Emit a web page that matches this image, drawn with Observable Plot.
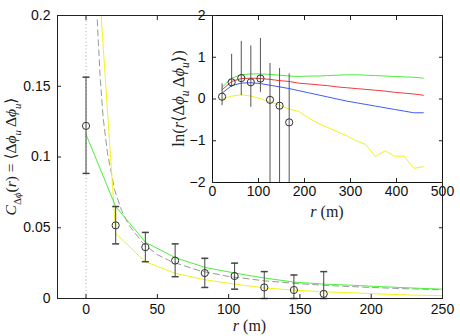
<!DOCTYPE html>
<html><head><meta charset="utf-8">
<script src="https://cdn.jsdelivr.net/npm/d3@7"></script>
<script src="https://cdn.jsdelivr.net/npm/@observablehq/plot@0.6"></script>
<style>
body{margin:0;background:#fff;}
#wrap{position:relative;width:460px;height:336px;overflow:hidden;background:#fff;}
#wrap svg{position:absolute;overflow:visible;}
</style></head><body><div id="wrap"></div>
<script>
// ---- main panel data ----
const rData = [0, 20.8, 41.6, 62.5, 83.3, 104.2, 125, 145.8, 166.7];
const cMean = [0.122, 0.0517, 0.0363, 0.0268, 0.018, 0.0159, 0.0078, 0.006, 0.0033];
const cLow  = [0.0884, 0.0386, 0.026, 0.0154, 0.0078, 0.0066, 0, 0, 0];
const cHigh = [0.1564, 0.065, 0.0467, 0.0386, 0.0284, 0.025, 0.019, 0.0166, 0.019];

const rModel = [0, 20.8, 41.6, 62.5, 83.3, 104.2, 125, 145.8, 166.7, 187.5, 208.3, 229.2, 250];
const cGreen  = [0.116, 0.065, 0.0398, 0.0289, 0.022, 0.018, 0.0145, 0.0116, 0.0102, 0.0093, 0.0083, 0.0074, 0.0066];
const cYellow = [0.36, 0.046, 0.026, 0.0178, 0.0133, 0.0102, 0.0075, 0.0059, 0.0047, 0.004, 0.0031, 0.0024, 0.002];

const rFit = [5, 7.7, 10, 12, 15, 20, 25, 30, 40, 50, 60, 80, 100, 125, 150, 175, 200, 225, 250];
const cFit = [0.31, 0.2, 0.155, 0.128, 0.103, 0.077, 0.062, 0.052, 0.039, 0.031, 0.026, 0.0195, 0.0156, 0.0125, 0.0104, 0.0089, 0.0078, 0.0069, 0.0062];

const xTicksMain = [0, 50, 100, 150, 200, 250];
const yTicksMain = [0, 0.05, 0.1, 0.15, 0.2];
const yTickLabelsMain = ["0", "0.05", "0.1", "0.15", "0.2"];

// ---- inset data ----
const rIn = [20.8, 41.6, 62.5, 83.3, 104.2, 125, 145.8, 166.7];
const lnMean = [0.055, 0.40, 0.50, 0.40, 0.49, -0.02, -0.16, -0.56];
const lnLow  = [-0.16, 0.28, 0.08, -0.2, 0.16, -2, -2, -2];
const lnHigh = [0.36, 1.07, 1.38, 1.27, 1.45, 0.85, 0.73, 0.60];

const rLine = [20.8, 41.6, 62.5, 83.3, 104.2, 125, 145.8, 166.7, 187.5, 208.3, 229.2, 250, 270.8, 291.7, 312.5, 333.3, 354.2, 375, 395.8, 416.7, 437.5, 458.3];
const lnGreen  = [0.28, 0.5, 0.58, 0.6, 0.6, 0.59, 0.57, 0.55, 0.54, 0.55, 0.55, 0.56, 0.57, 0.58, 0.58, 0.57, 0.56, 0.55, 0.54, 0.53, 0.52, 0.5];
const lnRed    = [0.22, 0.42, 0.49, 0.5, 0.49, 0.47, 0.44, 0.42, 0.38, 0.36, 0.34, 0.32, 0.29, 0.27, 0.25, 0.23, 0.21, 0.19, 0.16, 0.14, 0.12, 0.09];
const lnBlue   = [0.14, 0.32, 0.38, 0.39, 0.37, 0.33, 0.29, 0.25, 0.2, 0.15, 0.1, 0.05, 0.0, -0.05, -0.09, -0.13, -0.17, -0.21, -0.25, -0.29, -0.33, -0.33];
const lnYellow = [0.0, 0.07, 0.1, 0.07, 0.01, -0.07, -0.15, -0.24, -0.3, -0.45, -0.58, -0.68, -0.78, -0.88, -1.0, -1.09, -1.38, -1.24, -1.37, -1.37, -1.66, -1.62];

const xTicksIn = [0, 100, 200, 300, 400, 500];
const yTicksIn = [-2, -1, 0, 1, 2];

// ---- tables ----
const pts = rData.map((r, i) => ({r, m: cMean[i], lo: cLow[i], hi: cHigh[i]}));
const model = rModel.map((r, i) => ({r, g: cGreen[i], y: cYellow[i]}));
const fit = rFit.map((r, i) => ({r, c: cFit[i]}));
const ptsIn = rIn.map((r, i) => ({r, m: lnMean[i], lo: lnLow[i], hi: lnHigh[i]}));
const linesIn = [
  ...rLine.map((r, i) => ({r, v: lnGreen[i], s: "g"})),
  ...rLine.map((r, i) => ({r, v: lnRed[i], s: "r"})),
  ...rLine.map((r, i) => ({r, v: lnBlue[i], s: "b"})),
  ...rLine.map((r, i) => ({r, v: lnYellow[i], s: "y"}))
];

const GREEN = "#4cef3a", YELLOW = "#f2f21e", RED = "#f23a3a", BLUE = "#3f5cf5";
const capSymbol = {draw(ctx) { ctx.moveTo(-3.5, 0); ctx.lineTo(3.5, 0); }};
const FONT = "'Liberation Sans', Arial, Helvetica, sans-serif";

function axesBox(xt, yt, ytf, xpad) {
  return [
    Plot.axisX(xt, {anchor: "bottom", tickSize: -4, tickFormat: () => "", stroke: "#222"}),
    Plot.axisX(xt, {anchor: "top", tickSize: -4, tickFormat: () => "", stroke: "#222"}),
    Plot.axisY(yt, {anchor: "left", tickSize: -4, tickFormat: () => "", stroke: "#222"}),
    Plot.axisY(yt, {anchor: "right", tickSize: -4, tickFormat: () => "", stroke: "#222"}),
    Plot.axisX(xt, {anchor: "bottom", tickSize: 0, tickPadding: xpad, fill: "#111", label: null}),
    Plot.axisY(yt, {anchor: "left", tickSize: 0, tickPadding: 7, fill: "#111", label: null, tickFormat: ytf})
  ];
}

const main = Plot.plot({
  width: 460, height: 336,
  marginLeft: 57, marginRight: 18, marginTop: 15, marginBottom: 38,
  style: {fontFamily: FONT, fontSize: "14px", color: "#222", background: "transparent", overflow: "visible"},
  x: {domain: [-20, 250], label: null},
  y: {domain: [0, 0.2], label: null},
  marks: [
    Plot.ruleX([0], {y1: 0, y2: 0.2, stroke: "#aaa", strokeDasharray: "1,2.5"}),
    Plot.line(fit, {x: "r", y: "c", stroke: "#999", strokeWidth: 1, strokeDasharray: "6,4", clip: true}),
    Plot.line(model, {x: "r", y: "y", stroke: YELLOW, strokeWidth: 1, clip: true}),
    Plot.line(model, {x: "r", y: "g", stroke: GREEN, strokeWidth: 1, clip: true}),
    Plot.ruleX(pts, {x: "r", y1: "lo", y2: "hi", stroke: "#444", strokeWidth: 1}),
    Plot.dot(pts, {x: "r", y: "hi", symbol: capSymbol, stroke: "#444", fill: "none"}),
    Plot.dot(pts, {x: "r", y: "lo", symbol: capSymbol, stroke: "#444", fill: "none"}),
    Plot.dot(pts, {x: "r", y: "m", r: 3.6, stroke: "#333", fill: "none", strokeWidth: 1}),
    Plot.frame({stroke: "#222"}),
    ...axesBox(xTicksMain, yTicksMain, (d, i) => yTickLabelsMain[i], 6)
  ]
});
main.style.left = "0px"; main.style.top = "0px";

const inset = Plot.plot({
  width: 293, height: 222,
  marginLeft: 45, marginRight: 18, marginTop: 15, marginBottom: 40,
  style: {fontFamily: FONT, fontSize: "14px", color: "#222", background: "transparent", overflow: "visible"},
  x: {domain: [0, 500], label: null},
  y: {domain: [-2, 2], label: null},
  marks: [
    Plot.frame({fill: "white", stroke: null}),
    Plot.line(linesIn, {x: "r", y: "v", z: "s", stroke: d => ({g: GREEN, r: RED, b: BLUE, y: YELLOW})[d.s], strokeWidth: 1, clip: true}),
    Plot.ruleX(ptsIn, {x: "r", y1: "lo", y2: "hi", stroke: "#555", strokeWidth: 1, clip: true}),
    Plot.dot(ptsIn, {x: "r", y: "m", r: 3.6, stroke: "#333", fill: "none", strokeWidth: 1}),
    Plot.frame({stroke: "#111"}),
    ...axesBox(xTicksIn, yTicksIn, d => d < 0 ? "\u2212" + Math.abs(d) : String(d), 4)
  ]
});
inset.style.left = "167px"; inset.style.top = "0px";

const wrap = document.getElementById("wrap");
wrap.appendChild(main);
wrap.appendChild(inset);

// ---- math-style axis titles ----
const SERIF = "'Liberation Serif', 'DejaVu Serif', 'Times New Roman', serif";
function mathLabel(svg, x, y, rot, size, parts) {
  const t = d3.select(svg).append("text")
    .attr("transform", `translate(${x},${y}) rotate(${rot})`)
    .attr("text-anchor", "middle")
    .attr("font-family", SERIF)
    .attr("font-size", size)
    .attr("fill", "#222");
  let sub = false;
  for (const [txt, it, s] of parts) {
    const ts = t.append("tspan").text(txt);
    if (it) ts.attr("font-style", "italic");
    if (s && !sub) ts.attr("dy", size * 0.3);
    if (!s && sub) ts.attr("dy", -size * 0.3);
    if (s) ts.attr("font-size", size * 0.7);
    sub = !!s;
  }
}
const mainYLabel = [["C", true, false], ["\u0394", false, true], ["\u03d5", true, true], ["(", false, false], ["r", true, false], [") = \u27e8\u0394", false, false], ["\u03d5", true, false], ["u", true, true], ["\u2009\u0394", false, false], ["\u03d5", true, false], ["u", true, true], ["\u27e9", false, false]];
const insetYLabel = [["ln(", false, false], ["r", true, false], ["\u27e8\u0394", false, false], ["\u03d5", true, false], ["u", true, true], ["\u2009\u0394", false, false], ["\u03d5", true, false], ["u", true, true], ["\u27e9)", false, false]];
const rLabel = [["r", true, false], [" (m)", false, false]];

mathLabel(main, 16, 156.5, -90, 15.5, mainYLabel);
mathLabel(main, 249.5, 331, 0, 16, rLabel);
mathLabel(inset, 17, 98.5, -90, 16.5, insetYLabel);
mathLabel(inset, 160, 217, 0, 16, rLabel);
</script>
</body></html>
